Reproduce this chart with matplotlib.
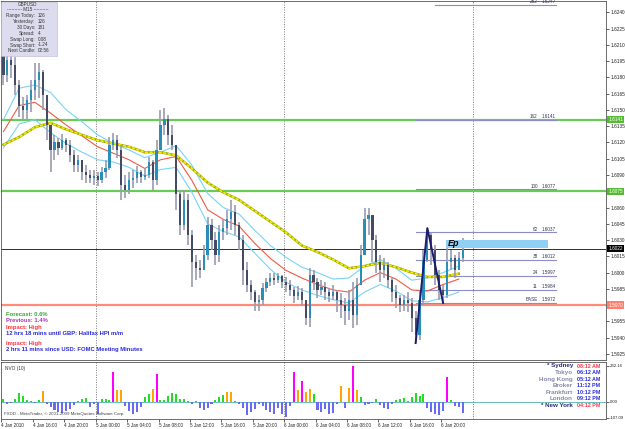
import numpy as np
import matplotlib
matplotlib.use("Agg")
import matplotlib.pyplot as plt
from matplotlib.patches import Rectangle
import matplotlib.transforms as mtransforms

plt.rcParams["font.family"] = ["Liberation Sans", "DejaVu Sans"]

# ── Data: GBPUSD, 30-min candles (price) ─────────────────────────────────────
open0 = 1.6201
close = [1.6182, 1.6196, 1.6191, 1.6173, 1.6154, 1.6150, 1.6159, 1.6168, 1.6178, 1.6185,
         1.6164, 1.6136, 1.6113, 1.6120, 1.6115, 1.6122, 1.6118, 1.6108, 1.6099, 1.6104,
         1.6093, 1.6090, 1.6087, 1.6089, 1.6085, 1.6093, 1.6096, 1.6118, 1.6122, 1.6113,
         1.6081, 1.6076, 1.6085, 1.6087, 1.6093, 1.6088, 1.6090, 1.6102, 1.6085, 1.6113,
         1.6136, 1.6142, 1.6127, 1.6118, 1.6072, 1.6044, 1.6067, 1.6035, 1.6010, 1.6004,
         1.6002, 1.6016, 1.6044, 1.6030, 1.6016, 1.6037, 1.6041, 1.6049, 1.6056, 1.6044,
         1.6030, 1.6002, 1.5989, 1.5982, 1.5973, 1.5975, 1.5986, 1.5991, 1.5995, 1.5993,
         1.5997, 1.5991, 1.5989, 1.5984, 1.5978, 1.5982, 1.5975, 1.5958, 1.5998, 1.5991,
         1.5984, 1.5987, 1.5982, 1.5978, 1.5982, 1.5975, 1.5970, 1.5965, 1.5975, 1.5961,
         1.5989, 1.6016, 1.6049, 1.6053, 1.6030, 1.6010, 1.6002, 1.6007, 1.5993, 1.5982,
         1.5977, 1.5970, 1.5975, 1.5972, 1.5958, 1.5942, 1.5975, 1.6012, 1.6035, 1.6021,
         1.5998, 1.5984, 1.5979, 1.6010, 1.6013, 1.6002, 1.6013, 1.6021]
high = [1.6210, 1.6205, 1.6201, 1.6199, 1.6178, 1.6162, 1.6164, 1.6178, 1.6193, 1.6193,
        1.6187, 1.6159, 1.6136, 1.6127, 1.6124, 1.6128, 1.6124, 1.6122, 1.6113, 1.6108,
        1.6104, 1.6099, 1.6095, 1.6095, 1.6093, 1.6097, 1.6104, 1.6125, 1.6129, 1.6127,
        1.6118, 1.6090, 1.6093, 1.6095, 1.6098, 1.6095, 1.6096, 1.6107, 1.6104, 1.6122,
        1.6150, 1.6152, 1.6145, 1.6136, 1.6118, 1.6076, 1.6076, 1.6072, 1.6039, 1.6016,
        1.6012, 1.6025, 1.6051, 1.6049, 1.6037, 1.6044, 1.6049, 1.6058, 1.6067, 1.6062,
        1.6047, 1.6035, 1.6010, 1.5993, 1.5984, 1.5979, 1.5990, 1.5995, 1.6000, 1.6000,
        1.6000, 1.5998, 1.5996, 1.5993, 1.5987, 1.5988, 1.5986, 1.5975, 1.6004, 1.6002,
        1.5995, 1.5993, 1.5991, 1.5986, 1.5989, 1.5984, 1.5981, 1.5977, 1.5984, 1.5991,
        1.5995, 1.6025, 1.6060, 1.6060, 1.6047, 1.6035, 1.6016, 1.6013, 1.6010, 1.5995,
        1.5989, 1.5979, 1.5979, 1.5982, 1.5977, 1.5965, 1.5984, 1.6021, 1.6041, 1.6037,
        1.6025, 1.6002, 1.5989, 1.6023, 1.6021, 1.6016, 1.6019, 1.6032]
low = [1.6173, 1.6176, 1.6179, 1.6164, 1.6143, 1.6141, 1.6142, 1.6148, 1.6159, 1.6161,
       1.6150, 1.6122, 1.6093, 1.6104, 1.6108, 1.6113, 1.6111, 1.6102, 1.6093, 1.6093,
       1.6085, 1.6083, 1.6083, 1.6081, 1.6080, 1.6083, 1.6087, 1.6095, 1.6113, 1.6106,
       1.6067, 1.6069, 1.6072, 1.6078, 1.6083, 1.6083, 1.6085, 1.6087, 1.6076, 1.6081,
       1.6113, 1.6127, 1.6118, 1.6113, 1.6058, 1.6035, 1.6039, 1.6025, 1.5987, 1.5993,
       1.5995, 1.6002, 1.6012, 1.6021, 1.6007, 1.6010, 1.6030, 1.6035, 1.6039, 1.6035,
       1.6021, 1.5989, 1.5982, 1.5975, 1.5965, 1.5965, 1.5970, 1.5982, 1.5988, 1.5989,
       1.5990, 1.5986, 1.5982, 1.5978, 1.5972, 1.5975, 1.5969, 1.5952, 1.5950, 1.5984,
       1.5977, 1.5979, 1.5975, 1.5973, 1.5975, 1.5964, 1.5958, 1.5952, 1.5956, 1.5949,
       1.5952, 1.5989, 1.6021, 1.6035, 1.6010, 1.6000, 1.5991, 1.5995, 1.5986, 1.5973,
       1.5967, 1.5964, 1.5965, 1.5964, 1.5945, 1.5935, 1.5938, 1.5970, 1.6010, 1.6007,
       1.5989, 1.5975, 1.5972, 1.5977, 1.6002, 1.5995, 1.6002, 1.6010]

# moving averages, read every 4th bar
ma_slow = [1.6118, 1.6125, 1.6134, 1.6138, 1.6132, 1.6127, 1.6122, 1.6119, 1.6116, 1.6111,
           1.6111, 1.6108, 1.6096, 1.6083, 1.6074, 1.6067, 1.6057, 1.6047, 1.6037, 1.6025,
           1.6019, 1.6012, 1.6004, 1.6006, 1.6009, 1.6005, 1.6000, 1.5996, 1.5996, 1.5999]
ma_fast = [1.6130, 1.6154, 1.6157, 1.6147, 1.6136, 1.6126, 1.6116, 1.6110, 1.6104, 1.6096,
           1.6104, 1.6107, 1.6085, 1.6058, 1.6049, 1.6043, 1.6027, 1.6013, 1.6002, 1.5995,
           1.5989, 1.5984, 1.5982, 1.5993, 1.6000, 1.5994, 1.5984, 1.5983, 1.5989, 1.5994]
env_up = [1.6141, 1.6170, 1.6173, 1.6166, 1.6150, 1.6139, 1.6127, 1.6119, 1.6113, 1.6106,
          1.6111, 1.6117, 1.6099, 1.6073, 1.6060, 1.6054, 1.6039, 1.6025, 1.6014, 1.6005,
          1.6000, 1.5994, 1.5995, 1.6006, 1.6012, 1.6004, 1.5993, 1.5995, 1.6000, 1.6006]
env_lo = [1.6115, 1.6137, 1.6141, 1.6129, 1.6119, 1.6111, 1.6104, 1.6102, 1.6097, 1.6089,
          1.6095, 1.6097, 1.6074, 1.6045, 1.6038, 1.6033, 1.6018, 1.6003, 1.5991, 1.5984,
          1.5979, 1.5975, 1.5972, 1.5982, 1.5989, 1.5983, 1.5974, 1.5973, 1.5977, 1.5982]

# NVO (10) histogram
nvo = [19, -13, -6, 19, 58, 39, 13, 6, -6, 13,
       71, -13, -32, -52, -64, -71, -58, -45, -19, 6,
       19, 26, -32, -13, -77, 19, 19, 13, 193, 77,
       77, -26, -58, -77, -64, -32, 32, 52, 84, 180,
       13, 13, 39, 58, 52, 19, 19, 6, -13, 6,
       -39, -52, -39, -13, 13, 32, 45, 66, 66, 6,
       -13, -39, -84, -64, -45, -13, -26, -52, -64, -77,
       -39, -77, -97, -26, 193, 77, 135, 64, 84, 52,
       -52, -64, -45, -77, -71, -13, 103, -39, 90, 232,
       77, 32, -19, -13, -6, 19, -19, -39, -45, -13,
       13, 19, 26, 6, 32, 58, 39, 52, -39, -64,
       -77, -84, -58, 161, 13, -26, -32, -71]

# horizontal levels and their axis boxes
levels = [1.6141, 1.6075, 1.6022, 1.5970]
level_colors = ["#66cc55", "#66cc55", "#2a2a5a", "#ff8c7a"]
level_box = ["#55bb33", "#55bb33", "#000000", "#ff8070"]

# Fibonacci expansion (A, B, C bars) and levels
fib_abc = [105, 108, 112]
fib_names = ["BASE", "11", "24", "38", "62", "100", "162", "262"]
fib_prices = [1.5972, 1.5984, 1.5997, 1.6012, 1.6037, 1.6077, 1.6141, 1.6247]

time_labels = ["4 Jan 2010", "4 Jan 16:00", "4 Jan 20:00", "5 Jan 00:00", "5 Jan 04:00",
               "5 Jan 08:00", "5 Jan 12:00", "5 Jan 16:00", "5 Jan 20:00", "6 Jan 00:00",
               "6 Jan 04:00", "6 Jan 08:00", "6 Jan 12:00", "6 Jan 16:00", "6 Jan 20:00"]
day_breaks = [12, 36, 60]

info_keys = ["Range Today:", "Yesterday:", "30 Days:", "Spread:", "Swap Long:",
             "Swap Short:", "Next Candle:"]
info_vals = ["126", "126", "181", "4", "0.08", "-1.24", "02:56"]

cities = ["* Sydney", "Tokyo", "Hong Kong", "Broker", "Frankfurt", "London", "* New York"]
city_times = ["08:12 AM", "06:12 AM", "05:12 AM", "11:12 PM", "10:12 PM", "09:12 PM", "04:12 PM"]

# ── Figure ───────────────────────────────────────────────────────────────────
W, H = 625, 429
fig = plt.figure(figsize=(6.25, 4.29), dpi=100)
fig.patch.set_facecolor("white")


def fx(x):
    return x / W


def fy(y):
    return 1 - y / H


ax = fig.add_axes([fx(1.5), fy(360), fx(606) - fx(1.5), fy(1) - fy(360)])
axn = fig.add_axes([fx(1.5), fy(419), fx(606) - fx(1.5), fy(362) - fy(419)])

n = len(close)
bx = 0.25 + 0.5 * np.arange(n)
close = np.array(close)
opens = np.r_[open0, close[:-1]]
bull = close >= opens

# ── Main price window ────────────────────────────────────────────────────────
for d in day_breaks:
    ax.axvline(d, color="#777777", lw=0.7, ls=(0, (1, 1.5)), zorder=1)
    axn.axvline(d, color="#777777", lw=0.7, ls=(0, (1, 1.5)), zorder=1)

for p, c in zip(levels, level_colors):
    ax.axhline(p, color=c, lw=1.6 if c != "#2a2a5a" else 0.7, zorder=1)

# fib expansion
fa, fb, fc = fib_abc
fib_x0, fib_x1 = bx[fa], 70.6
for name, p in zip(fib_names, fib_prices):
    x0 = fib_x0 if name != "262" else bx[fa] + 2.5
    ax.plot([x0, fib_x1], [p, p], color="#8c8cc8", lw=0.8, zorder=2)
    ax.text(68.3, p + 0.00005, name, fontsize=3.3, color="#333355",
            ha="right", va="bottom", zorder=5)
    ax.text(70.6, p + 0.00005, f"{p:.4f}", fontsize=3.3, color="#333355",
            ha="right", va="bottom", zorder=5)

ax.plot(bx[::4], env_up, color="#77d4f4", lw=0.8, zorder=3)
ax.plot(bx[::4], env_lo, color="#77d4f4", lw=0.8, zorder=3)
ax.plot(bx[::4], ma_fast, color="#f25a46", lw=0.8, zorder=3)
ax.plot(bx[::4], ma_slow, color="#a8a800", lw=1.8, zorder=3)
ax.plot(bx[::4], ma_slow, color="#f4f400", lw=1.1, ls=(0, (2, 1)), zorder=3)

# candles
ax.vlines(bx, low, high, color="#9a9cae", lw=1.2, zorder=4)
ax.bar(bx, close - opens, bottom=opens, width=0.28,
       color=np.where(bull, "#2a8fb8", "#464b64"), lw=0, zorder=5)

# A-B-C zigzag
ax.plot([bx[fa], bx[fb], bx[fc]], [low[fa], high[fb], low[fc]],
        color="#1c1c70", lw=1.4, zorder=6)

# Ep label
ax.add_patch(Rectangle((bx[113] - 0.1, 1.6023), 69.7 - bx[113], 0.0007,
                       color="#8fd0f4", lw=0, zorder=6))
ax.text(bx[113] + 0.1, 1.60265, "Ep", fontsize=6.5, fontweight="bold",
        fontstyle="italic", color="black", va="center", ha="left", zorder=7)

ax.set_xlim(0, 77.0)
ax.set_ylim(1.59194, 1.62504)
ax.set_xticks([])
ax.yaxis.tick_right()
yt = np.arange(1.5925, 1.62401, 0.0015)
ax.set_yticks(yt)
# tick labels hidden where a level box sits on the axis
ax.set_yticklabels(["" if min(abs(v - p) for p in levels) < 0.0002 else f"{v:.4f}"
                    for v in yt])
ax.tick_params(axis="y", labelsize=3.4, length=2, width=0.5, pad=1.5,
               colors="#222222")
for s in ax.spines.values():
    s.set_color("#555555")
    s.set_linewidth(0.6)

tr = mtransforms.blended_transform_factory(ax.transAxes, ax.transData)
for p, c in zip(levels, level_box):
    ax.text(1.004, p, f"{p:.4f}", transform=tr, fontsize=3.4, color="white",
            ha="left", va="center", clip_on=False, zorder=10,
            bbox=dict(boxstyle="square,pad=0.25", fc=c, ec=c, lw=0))

# ── NVO window ───────────────────────────────────────────────────────────────
nvo = np.array(nvo)
ncol = np.where(nvo > 120, "#ff00ff",
                np.where(nvo > 62, "#ffa500",
                         np.where(nvo > 0, "#22dd22", "#6a6af2")))
axn.bar(bx, nvo, width=0.26, color=ncol, lw=0, zorder=3)
axn.axhline(0, color="#30a0a0", lw=0.5, zorder=2)
axn.set_xlim(0, 77.0)
axn.set_ylim(-109.5, 257.6)
axn.yaxis.tick_right()
axn.set_yticks([232.16, 0, -103])
axn.set_yticklabels(["232.16", "0.00", "-107.09"])
axn.tick_params(axis="y", labelsize=3.1, length=2, width=0.5, pad=0.8,
                colors="#222222")
axn.set_xticks(np.arange(0, 57, 4))
axn.set_xticklabels(time_labels)
axn.tick_params(axis="x", labelsize=3.3, length=2, width=0.5, pad=0.8,
                colors="#222222")
for lab in axn.get_xticklabels():
    lab.set_ha("left")
for s in axn.spines.values():
    s.set_color("#555555")
    s.set_linewidth(0.6)
axn.spines["top"].set_linestyle((0, (1, 1)))

axn.text(0.006, 0.93, "NVO (10)", transform=axn.transAxes, fontsize=3.4,
         color="#333333", va="top")
axn.text(0.004, 0.06, "FXDD - MetaTrader, \u00a9 2001-2009 MetaQuotes Software Corp.",
         transform=axn.transAxes, fontsize=3.2, color="#444444", va="bottom")

# ── Overlays: info box, news, clocks ─────────────────────────────────────────
fig.patches.append(Rectangle((fx(1.5), fy(56)), fx(55), fy(1.5) - fy(56),
                             transform=fig.transFigure, fc="#dcdcee",
                             ec="#b8b8d0", lw=0.4, zorder=20))
fig.text(fx(28), fy(4), "GBPUSD", fontsize=3.3, ha="center", va="center",
         color="#333333", zorder=21)
fig.text(fx(28), fy(9.5), "---------- M15 ----------", fontsize=3.3, ha="center",
         va="center", color="#333333", zorder=21)
for k, (key, val) in enumerate(zip(info_keys, info_vals)):
    yy = 15.5 + k * 5.9
    fig.text(fx(35), fy(yy), key, fontsize=3.3, ha="right", va="center",
             color="#333333", zorder=21)
    fig.text(fx(38), fy(yy), val, fontsize=3.3, ha="left", va="center",
             color="#333333", zorder=21)

news = [("Forecast: 0.6%", "#33aa33", 314), ("Previous: 1.4%", "#aa33bb", 320.5),
        ("Impact: High", "#ff3344", 327), ("12 hrs 18 mins until GBP: Halifax HPI m/m", "#2a2ad8", 333.5),
        ("Impact: High", "#ff3344", 343), ("2 hrs 11 mins since USD: FOMC Meeting Minutes", "#2a2ad8", 349.5)]
for txt, col, yy in news:
    fig.text(fx(5.5), fy(yy), txt, fontsize=4.2, fontweight="bold", color=col,
             va="center", ha="left", zorder=21)

for k, (city, t) in enumerate(zip(cities, city_times)):
    yy = 366 + k * 6.6
    star = city.startswith("*")
    fig.text(fx(573), fy(yy), city, fontsize=4.5, fontweight="bold",
             color="#2a2a7a" if star else "#8888aa", ha="right", va="center", zorder=21)
    fig.text(fx(577), fy(yy), t, fontsize=3.9, fontweight="bold",
             color="#ff3344" if star else "#2a2ad8", ha="left", va="center", zorder=21)

fig.savefig("out.png", dpi=100)
